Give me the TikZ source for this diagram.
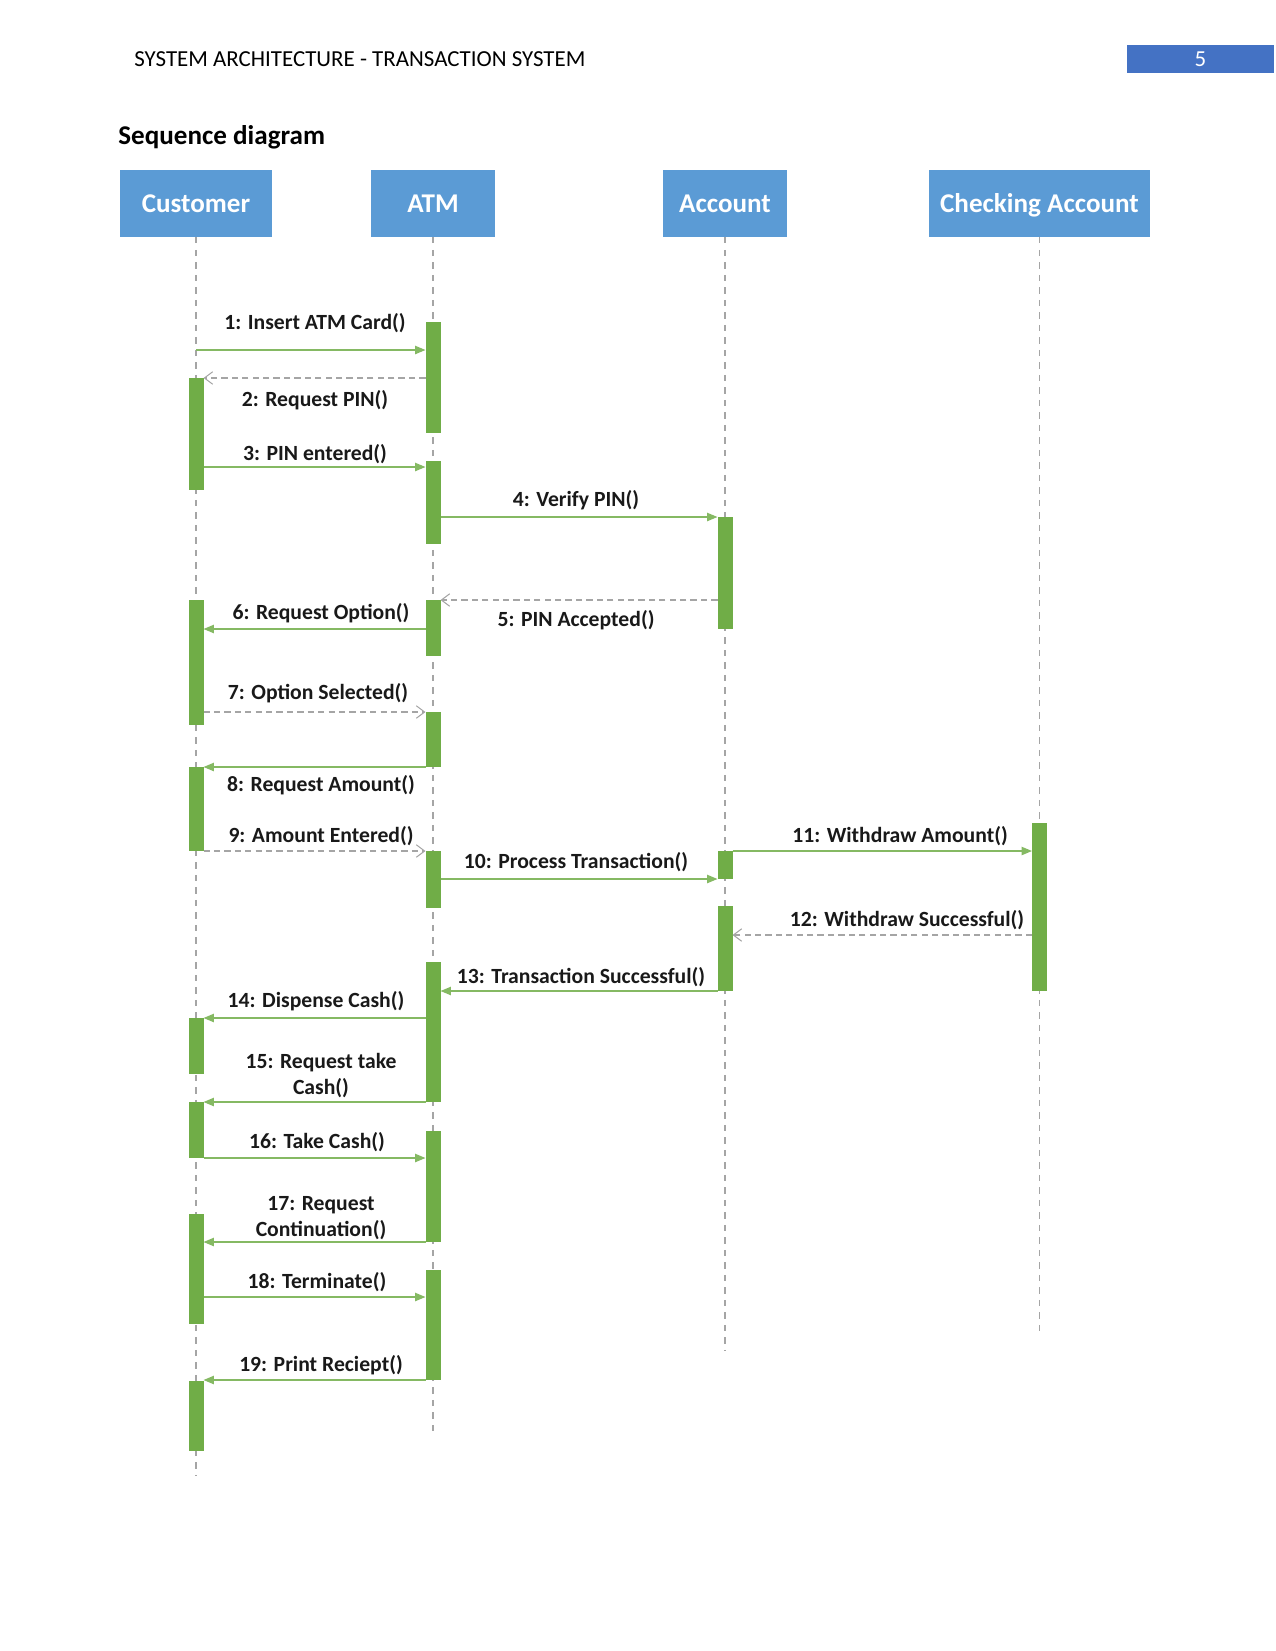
\documentclass[tikz,border=0pt]{standalone}
\usepackage{fontspec}
\setmainfont{Carlito}
\usetikzlibrary{arrows.meta}
\definecolor{boxblue}{HTML}{5B9BD5}
\definecolor{pageblue}{HTML}{4472C4}
\definecolor{actgreen}{HTML}{70AD47}
\definecolor{linegray}{HTML}{A5A5A5}
\newcommand\actbar[4]{\node[act, minimum height={(#4-#3)*0.48pt}] (#1) at (#2,#3) {};}
\begin{document}
\begin{tikzpicture}[x=0.48pt,y=-0.48pt,
 obj/.style={fill=boxblue, text=white, font=\bfseries\fontsize{13}{15}\selectfont, minimum height=32pt, inner sep=0pt, text height=10.2pt, text depth=1.8pt},
 life/.style={draw=linegray, dash pattern=on 3pt off 3pt, line width=0.5pt},
 act/.style={fill=actgreen, minimum width=7.2pt, inner sep=0pt, outer sep=0pt, anchor=north},
 msg/.style={draw=actgreen!85!white, line width=0.6pt, -{Triangle[length=5pt,width=4pt]}},
 ret/.style={draw=linegray, line width=0.6pt, dash pattern=on 3pt off 2pt, -{Straight Barb[length=4pt,width=6pt,line width=0.5pt]}},
 lbl/.style={font=\bfseries\fontsize{10.4}{12.5}\selectfont, text=black!90, inner sep=0pt, align=center}]
\useasboundingbox (0,0) rectangle (1275,1651);
% header
\node[anchor=west, font=\fontsize{11}{13}\selectfont, inner sep=0pt] (hdr) at (134,59.5) {SYSTEM ARCHITECTURE - TRANSACTION SYSTEM};
\node[fill=pageblue, text=white, minimum width=70.6pt, minimum height=13.4pt, inner sep=0pt, font=\fontsize{11}{13}\selectfont] (pg) at (1200.5,59) {5};
\node[anchor=west, font=\bfseries\fontsize{13}{15}\selectfont, inner sep=0pt] (title) at (118,137) {Sequence diagram};
% objects
\node[obj, minimum width=73pt] (cust) at (196,203.5) {Customer};
\node[obj, minimum width=59.5pt] (atm) at (433,203.5) {ATM};
\node[obj, minimum width=59.5pt] (acc) at (725,203.5) {Account};
\node[obj, minimum width=106pt] (chk) at (1039.5,203.5) {Checking Account};
% lifelines
\coordinate (custend) at (196,1476);
\coordinate (atmend) at (433,1434);
\coordinate (accend) at (725,1351);
\coordinate (chkend) at (1039.5,1337);
\draw[life] (cust.south) -- (custend);
\draw[life] (atm.south) -- (atmend);
\draw[life] (acc.south) -- (accend);
\draw[life] (chk.south) -- (chkend);
% activations
\actbar{a1}{433}{322}{433}
\actbar{a2}{433}{461}{544}
\actbar{a3}{433}{600}{656}
\actbar{a4}{433}{712}{767}
\actbar{a5}{433}{851}{908}
\actbar{a6}{433}{962}{1102}
\actbar{a7}{433}{1131}{1242}
\actbar{a8}{433}{1270}{1380}
\actbar{c1}{196}{378}{490}
\actbar{c2}{196}{600}{725}
\actbar{c3}{196}{767}{851}
\actbar{c4}{196}{1018}{1074}
\actbar{c5}{196}{1102}{1158}
\actbar{c6}{196}{1214}{1324}
\actbar{c7}{196}{1381}{1451}
\actbar{ac1}{725}{517}{629}
\actbar{ac2}{725}{851}{879}
\actbar{ac3}{725}{906}{991}
\actbar{ch1}{1039.5}{823}{991}
% messages
\draw[msg] (cust |- 0,350) -- (a1.west |- 0,350);
\draw[ret] (a1.west |- 0,378) -- (c1.east |- 0,378);
\draw[msg] (c1.east |- 0,467) -- (a2.west |- 0,467);
\draw[msg] (a2.east |- 0,517) -- (ac1.west |- 0,517);
\draw[ret] (ac1.west |- 0,600) -- (a3.east |- 0,600);
\draw[msg] (a3.west |- 0,629) -- (c2.east |- 0,629);
\draw[ret] (c2.east |- 0,712) -- (a4.west |- 0,712);
\draw[msg] (a4.west |- 0,767) -- (c3.east |- 0,767);
\draw[ret] (c3.east |- 0,851) -- (a5.west |- 0,851);
\draw[msg] (a5.east |- 0,879) -- (ac2.west |- 0,879);
\draw[msg] (ac2.east |- 0,851) -- (ch1.west |- 0,851);
\draw[ret] (ch1.west |- 0,935) -- (ac3.east |- 0,935);
\draw[msg] (ac3.west |- 0,991) -- (a6.east |- 0,991);
\draw[msg] (a6.west |- 0,1018) -- (c4.east |- 0,1018);
\draw[msg] (a6.west |- 0,1102) -- (c5.east |- 0,1102);
\draw[msg] (c5.east |- 0,1158) -- (a7.west |- 0,1158);
\draw[msg] (a7.west |- 0,1242) -- (c6.east |- 0,1242);
\draw[msg] (c6.east |- 0,1297) -- (a8.west |- 0,1297);
\draw[msg] (a8.west |- 0,1380) -- (c7.east |- 0,1380);
% labels
\node[lbl] (l1) at (315,323) {1: Insert ATM Card()};
\node[lbl] (l2) at (315,400) {2: Request PIN()};
\node[lbl] (l3) at (315,454) {3: PIN entered()};
\node[lbl] (l4) at (576,500) {4: Verify PIN()};
\node[lbl] (l5) at (576,620) {5: PIN Accepted()};
\node[lbl] (l6) at (321,613) {6: Request Option()};
\node[lbl] (l7) at (318,693) {7: Option Selected()};
\node[lbl] (l8) at (321,785) {8: Request Amount()};
\node[lbl] (l9) at (321,836) {9: Amount Entered()};
\node[lbl] (l10) at (576,862) {10: Process Transaction()};
\node[lbl] (l11) at (900,836) {11: Withdraw Amount()};
\node[lbl] (l12) at (907,920) {12: Withdraw Successful()};
\node[lbl] (l13) at (581,977) {13: Transaction Successful()};
\node[lbl] (l14) at (316,1001) {14: Dispense Cash()};
\node[lbl] (l15) at (321,1076) {15: Request take\\Cash()};
\node[lbl] (l16) at (317,1142) {16: Take Cash()};
\node[lbl] (l17) at (321,1218) {17: Request\\Continuation()};
\node[lbl] (l18) at (317,1282) {18: Terminate()};
\node[lbl] (l19) at (321,1365) {19: Print Reciept()};
\end{tikzpicture}
\end{document}
